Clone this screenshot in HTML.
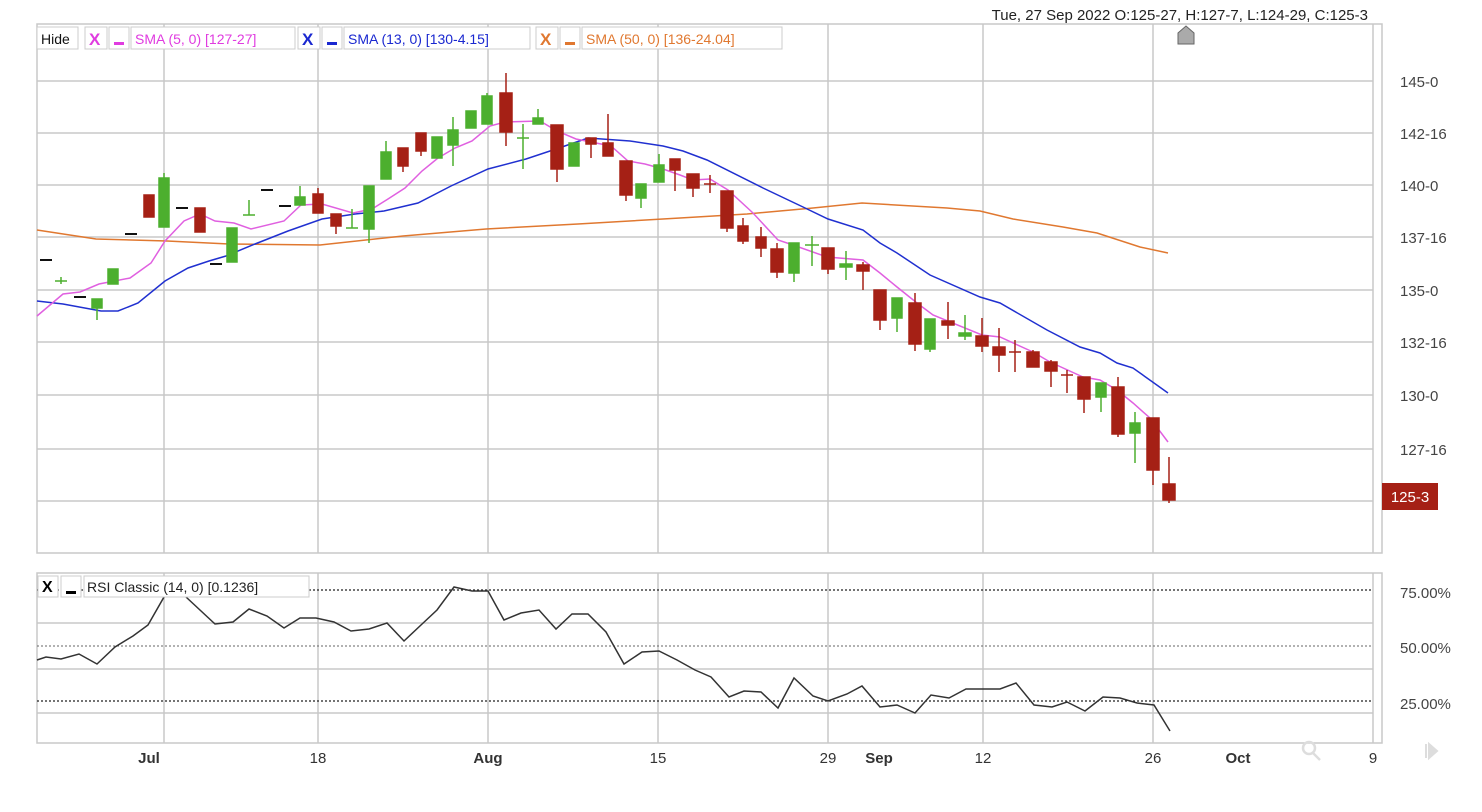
<!DOCTYPE html>
<html><head><meta charset="utf-8"><style>
html,body{margin:0;padding:0;background:#fff;width:1482px;height:812px;overflow:hidden}
svg{display:block;font-family:"Liberation Sans",Arial,sans-serif}
</style></head><body>
<svg width="1482" height="812" viewBox="0 0 1482 812" xmlns="http://www.w3.org/2000/svg">
<rect width="1482" height="812" fill="#fff"/>
<text x="1368" y="20" font-size="15" text-anchor="end" fill="#222">Tue, 27 Sep 2022  O:125-27, H:127-7, L:124-29, C:125-3</text>
<!-- main panel grid -->
<g stroke="#c8c8c8" stroke-width="1.5" fill="none">
<rect x="37" y="24" width="1345" height="529"/>
<line x1="1373" y1="24" x2="1373" y2="553"/>
<g>
<line x1="37" y1="81" x2="1373" y2="81"/><line x1="37" y1="133" x2="1373" y2="133"/>
<line x1="37" y1="185" x2="1373" y2="185"/><line x1="37" y1="237" x2="1373" y2="237"/>
<line x1="37" y1="290" x2="1373" y2="290"/><line x1="37" y1="342" x2="1373" y2="342"/>
<line x1="37" y1="395" x2="1373" y2="395"/><line x1="37" y1="449" x2="1373" y2="449"/>
<line x1="37" y1="501" x2="1373" y2="501"/>
</g>
<g>
<line x1="164" y1="24" x2="164" y2="553"/><line x1="318" y1="24" x2="318" y2="553"/>
<line x1="488" y1="24" x2="488" y2="553"/><line x1="658" y1="24" x2="658" y2="553"/>
<line x1="828" y1="24" x2="828" y2="553"/><line x1="983" y1="24" x2="983" y2="553"/>
<line x1="1153" y1="24" x2="1153" y2="553"/>
</g>
</g>
<!-- price labels -->
<g font-size="15" fill="#444">
<text x="1400" y="87">145-0</text><text x="1400" y="139">142-16</text>
<text x="1400" y="191">140-0</text><text x="1400" y="243">137-16</text>
<text x="1400" y="296">135-0</text><text x="1400" y="348">132-16</text>
<text x="1400" y="401">130-0</text><text x="1400" y="455">127-16</text>
<text x="1400" y="507">125-0</text>
</g>
<rect x="1382" y="483" width="56" height="27" fill="#a52015"/>
<text x="1410" y="502" font-size="15" fill="#fff" text-anchor="middle">125-3</text>
<!-- home icon -->
<path d="M1178,44 L1178,33 L1186,26 L1194,33 L1194,44 Z" fill="#aaa" stroke="#666" stroke-width="1"/>
<!-- legend -->
<g font-size="14">
<rect x="37" y="27" width="41" height="22" fill="#fff" stroke="#ccc"/><text x="41" y="44" fill="#111">Hide</text>
<rect x="85" y="27" width="22" height="22" fill="#fff" stroke="#ccc"/><text x="89" y="45" fill="#e03ce0" font-weight="bold" font-size="17">X</text>
<rect x="109" y="27" width="20" height="22" fill="#fff" stroke="#ccc"/><rect x="114" y="42" width="10" height="3" fill="#e03ce0"/>
<rect x="131" y="27" width="164" height="22" fill="#fff" stroke="#ccc"/><text x="135" y="44" fill="#e03ce0">SMA (5, 0)  [127-27]</text>
<rect x="298" y="27" width="22" height="22" fill="#fff" stroke="#ccc"/><text x="302" y="45" fill="#1a28d0" font-weight="bold" font-size="17">X</text>
<rect x="322" y="27" width="20" height="22" fill="#fff" stroke="#ccc"/><rect x="327" y="42" width="10" height="3" fill="#1a28d0"/>
<rect x="344" y="27" width="186" height="22" fill="#fff" stroke="#ccc"/><text x="348" y="44" fill="#1a28d0">SMA (13, 0)  [130-4.15]</text>
<rect x="536" y="27" width="22" height="22" fill="#fff" stroke="#ccc"/><text x="540" y="45" fill="#e07830" font-weight="bold" font-size="17">X</text>
<rect x="560" y="27" width="20" height="22" fill="#fff" stroke="#ccc"/><rect x="565" y="42" width="10" height="3" fill="#e07830"/>
<rect x="582" y="27" width="200" height="22" fill="#fff" stroke="#ccc"/><text x="586" y="44" fill="#e07830">SMA (50, 0)  [136-24.04]</text>
</g>
<!-- SMA lines -->
<polyline fill="none" stroke="#e07830" stroke-width="1.5" points="37,230 96,239 167,241 229,244 320,245 403,236 486,229 578,224 680,218 747,214 813,208 862,203 947,208 980,211 1013,219 1063,227 1097,233 1140,247 1168,253"/>
<polyline fill="none" stroke="#2030d0" stroke-width="1.5" points="37,301 63,304 101,311 118,311 138,303 165,281 188,268 209,261 226,256 255,244 288,231 322,219 355,214 384,211 418,203 451,186 488,169 526,159 559,148 588,138 630,141 663,146 683,151 707,160 763,188 803,207 828,219 863,230 880,243 897,253 930,275 980,297 1000,303 1047,330 1080,347 1100,353 1117,363 1133,368 1168,393"/>
<polyline fill="none" stroke="#e060e0" stroke-width="1.5" points="37,316 63,294 80,292 99,284 130,278 151,263 165,241 184,221 200,214 215,221 234,223 251,229 284,221 301,205 322,204 353,213 372,209 388,199 405,188 422,171 438,158 455,148 472,141 490,126 505,122 540,121 557,131 576,139 611,146 628,161 645,164 663,169 680,175 693,180 710,179 728,190 753,213 778,240 793,245 827,257 863,260 880,273 897,287 917,303 933,315 982,335 1000,337 1033,352 1050,362 1083,377 1100,380 1117,390 1133,403 1150,418 1168,442"/>
<!-- candles -->
<g stroke-width="1.5">
<g stroke="#111"><line x1="40" y1="260" x2="52" y2="260" stroke-width="2"/><line x1="74" y1="297" x2="86" y2="297" stroke-width="2"/><line x1="125" y1="234" x2="137" y2="234" stroke-width="2"/><line x1="176" y1="208" x2="188" y2="208" stroke-width="2"/><line x1="210" y1="264" x2="222" y2="264" stroke-width="2"/><line x1="261" y1="190" x2="273" y2="190" stroke-width="2"/><line x1="279" y1="206" x2="291" y2="206" stroke-width="2"/></g>
<g stroke="#4caf2e" fill="#4caf2e">
<line x1="61" y1="277" x2="61" y2="284"/><line x1="55" y1="281" x2="67" y2="281"/>
<line x1="97" y1="299" x2="97" y2="320"/><rect x="92" y="299" width="10" height="9"/>
<rect x="108" y="269" width="10" height="15"/>
<line x1="164" y1="173" x2="164" y2="227"/><rect x="159" y="178" width="10" height="49"/>
<line x1="232" y1="228" x2="232" y2="262"/><rect x="227" y="228" width="10" height="34"/>
<line x1="249" y1="200" x2="249" y2="215"/><line x1="243" y1="215" x2="255" y2="215"/>
<line x1="300" y1="186" x2="300" y2="205"/><rect x="295" y="197" width="10" height="8"/>
<line x1="352" y1="209" x2="352" y2="228"/><line x1="346" y1="228" x2="358" y2="228"/>
<line x1="369" y1="186" x2="369" y2="243"/><rect x="364" y="186" width="10" height="43"/>
<line x1="386" y1="141" x2="386" y2="179"/><rect x="381" y="152" width="10" height="27"/>
<rect x="432" y="137" width="10" height="21"/>
<line x1="453" y1="117" x2="453" y2="166"/><rect x="448" y="130" width="10" height="15"/>
<rect x="466" y="111" width="10" height="17"/>
<line x1="487" y1="93" x2="487" y2="124"/><rect x="482" y="96" width="10" height="28"/>
<line x1="523" y1="124" x2="523" y2="169"/><line x1="517" y1="138" x2="529" y2="138"/>
<line x1="538" y1="109" x2="538" y2="124"/><rect x="533" y="118" width="10" height="6"/>
<rect x="569" y="143" width="10" height="23"/>
<line x1="641" y1="184" x2="641" y2="208"/><rect x="636" y="184" width="10" height="14"/>
<line x1="659" y1="154" x2="659" y2="182"/><rect x="654" y="165" width="10" height="17"/>
<line x1="794" y1="243" x2="794" y2="282"/><rect x="789" y="243" width="10" height="30"/>
<line x1="812" y1="236" x2="812" y2="266"/><line x1="805" y1="245" x2="819" y2="245"/>
<line x1="846" y1="251" x2="846" y2="280"/><rect x="840" y="264" width="12" height="3"/>
<line x1="897" y1="298" x2="897" y2="332"/><rect x="892" y="298" width="10" height="20"/>
<line x1="930" y1="319" x2="930" y2="352"/><rect x="925" y="319" width="10" height="30"/>
<line x1="965" y1="315" x2="965" y2="340"/><rect x="959" y="333" width="12" height="3"/>
<line x1="1101" y1="383" x2="1101" y2="412"/><rect x="1096" y="383" width="10" height="14"/>
<line x1="1135" y1="412" x2="1135" y2="463"/><rect x="1130" y="423" width="10" height="10"/>
</g>
<g stroke="#a52015" fill="#a52015">
<rect x="144" y="195" width="10" height="22"/>
<line x1="200" y1="208" x2="200" y2="232"/><rect x="195" y="208" width="10" height="24"/>
<line x1="318" y1="188" x2="318" y2="213"/><rect x="313" y="194" width="10" height="19"/>
<line x1="336" y1="214" x2="336" y2="234"/><rect x="331" y="214" width="10" height="12"/>
<line x1="403" y1="148" x2="403" y2="172"/><rect x="398" y="148" width="10" height="18"/>
<line x1="421" y1="133" x2="421" y2="156"/><rect x="416" y="133" width="10" height="18"/>
<line x1="506" y1="73" x2="506" y2="146"/><rect x="500" y="93" width="12" height="39"/>
<line x1="557" y1="125" x2="557" y2="182"/><rect x="551" y="125" width="12" height="44"/>
<line x1="591" y1="138" x2="591" y2="158"/><rect x="586" y="138" width="10" height="6"/>
<line x1="608" y1="114" x2="608" y2="156"/><rect x="603" y="143" width="10" height="13"/>
<line x1="626" y1="161" x2="626" y2="201"/><rect x="620" y="161" width="12" height="34"/>
<line x1="675" y1="159" x2="675" y2="191"/><rect x="670" y="159" width="10" height="11"/>
<line x1="693" y1="174" x2="693" y2="197"/><rect x="687" y="174" width="12" height="14"/>
<line x1="710" y1="175" x2="710" y2="193"/><line x1="704" y1="184" x2="716" y2="184"/>
<line x1="727" y1="191" x2="727" y2="232"/><rect x="721" y="191" width="12" height="37"/>
<line x1="743" y1="218" x2="743" y2="244"/><rect x="738" y="226" width="10" height="15"/>
<line x1="761" y1="227" x2="761" y2="257"/><rect x="756" y="237" width="10" height="11"/>
<line x1="777" y1="243" x2="777" y2="278"/><rect x="771" y="249" width="12" height="23"/>
<line x1="828" y1="248" x2="828" y2="274"/><rect x="822" y="248" width="12" height="21"/>
<line x1="863" y1="262" x2="863" y2="290"/><rect x="857" y="265" width="12" height="6"/>
<line x1="880" y1="290" x2="880" y2="330"/><rect x="874" y="290" width="12" height="30"/>
<line x1="915" y1="293" x2="915" y2="351"/><rect x="909" y="303" width="12" height="41"/>
<line x1="948" y1="302" x2="948" y2="339"/><rect x="942" y="321" width="12" height="4"/>
<line x1="982" y1="318" x2="982" y2="352"/><rect x="976" y="336" width="12" height="10"/>
<line x1="999" y1="328" x2="999" y2="372"/><rect x="993" y="347" width="12" height="8"/>
<line x1="1015" y1="340" x2="1015" y2="372"/><line x1="1009" y1="352" x2="1021" y2="352"/>
<line x1="1033" y1="350" x2="1033" y2="367"/><rect x="1027" y="352" width="12" height="15"/>
<line x1="1051" y1="360" x2="1051" y2="387"/><rect x="1045" y="362" width="12" height="9"/>
<line x1="1067" y1="370" x2="1067" y2="393"/><line x1="1061" y1="375" x2="1073" y2="375"/>
<line x1="1084" y1="377" x2="1084" y2="413"/><rect x="1078" y="377" width="12" height="22"/>
<line x1="1118" y1="377" x2="1118" y2="437"/><rect x="1112" y="387" width="12" height="47"/>
<line x1="1153" y1="418" x2="1153" y2="485"/><rect x="1147" y="418" width="12" height="52"/>
<line x1="1169" y1="457" x2="1169" y2="503"/><rect x="1163" y="484" width="12" height="16"/>
</g>
</g>
<!-- RSI panel -->
<g stroke="#c8c8c8" stroke-width="1.5" fill="none">
<rect x="37" y="573" width="1345" height="170"/>
<line x1="1373" y1="573" x2="1373" y2="743"/>
<line x1="37" y1="623" x2="1373" y2="623"/><line x1="37" y1="669" x2="1373" y2="669"/><line x1="37" y1="713" x2="1373" y2="713"/>
<line x1="164" y1="573" x2="164" y2="743"/><line x1="318" y1="573" x2="318" y2="743"/>
<line x1="488" y1="573" x2="488" y2="743"/><line x1="658" y1="573" x2="658" y2="743"/>
<line x1="828" y1="573" x2="828" y2="743"/><line x1="983" y1="573" x2="983" y2="743"/>
<line x1="1153" y1="573" x2="1153" y2="743"/>
</g>
<g stroke="#222" stroke-width="1.3" stroke-dasharray="2,2">
<line x1="37" y1="590" x2="1373" y2="590"/><line x1="37" y1="701" x2="1373" y2="701"/>
</g>
<line x1="37" y1="646" x2="1373" y2="646" stroke="#666" stroke-width="1" stroke-dasharray="2,2"/>
<polyline fill="none" stroke="#333" stroke-width="1.5" points="37,660 46,657 61,659 79,654 97,664 115,647 133,636 148,625 164,597 170,581 186,597 215,624 233,622 249,609 267,616 284,628 300,618 316,618 334,622 351,631 369,629 387,623 404,641 421,625 437,610 454,587 472,591 488,591 504,620 521,613 539,610 556,629 572,614 588,614 606,632 624,664 642,652 659,651 677,660 695,670 711,677 729,697 744,691 761,692 778,708 794,678 813,696 828,701 847,694 862,686 880,707 897,705 915,713 931,695 949,698 966,689 1000,689 1016,683 1034,705 1052,707 1067,702 1085,711 1103,697 1120,698 1137,703 1154,705 1170,731"/>
<g font-size="14">
<rect x="38" y="576" width="20" height="21" fill="#fff" stroke="#ccc"/><text x="42" y="592" font-weight="bold" font-size="16" fill="#000">X</text>
<rect x="61" y="576" width="20" height="21" fill="#fff" stroke="#ccc"/><rect x="66" y="591" width="10" height="3" fill="#000"/>
<rect x="84" y="576" width="225" height="21" fill="#fff" stroke="#ccc"/><text x="87" y="592" fill="#222">RSI Classic (14, 0)  [0.1236]</text>
</g>
<g font-size="15" fill="#444">
<text x="1400" y="598">75.00%</text><text x="1400" y="653">50.00%</text><text x="1400" y="709">25.00%</text>
</g>
<!-- x labels -->
<g font-size="15" fill="#333" text-anchor="middle">
<text x="149" y="763" font-weight="bold">Jul</text><text x="318" y="763">18</text>
<text x="488" y="763" font-weight="bold">Aug</text><text x="658" y="763">15</text>
<text x="828" y="763">29</text><text x="879" y="763" font-weight="bold">Sep</text>
<text x="983" y="763">12</text><text x="1153" y="763">26</text>
<text x="1238" y="763" font-weight="bold">Oct</text><text x="1373" y="763">9</text>
</g>
<g stroke="#ddd" stroke-width="2.5" fill="none"><circle cx="1309" cy="748" r="6"/><line x1="1313" y1="753" x2="1320" y2="760"/></g>
<path d="M1426,744 L1426,758 M1429,744 L1437,751 L1429,758 Z" stroke="#ddd" stroke-width="2" fill="#ddd"/>
</svg>
</body></html>
